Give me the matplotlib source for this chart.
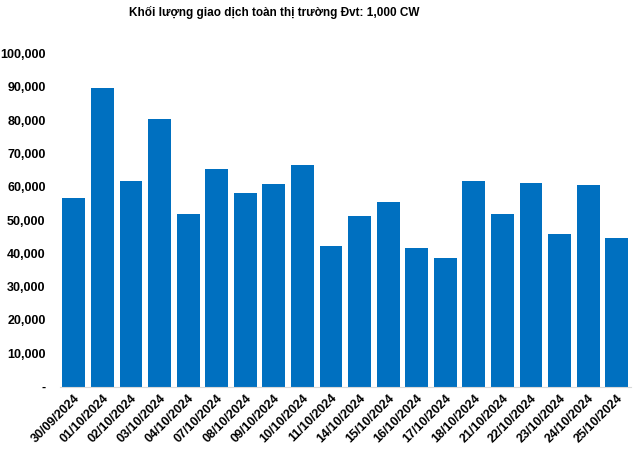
import matplotlib
matplotlib.use("Agg")
import matplotlib.pyplot as plt
from matplotlib.ticker import FuncFormatter

# Dates and traded volume (unit: 1,000 CW)
dates = [
    "30/09/2024", "01/10/2024", "02/10/2024", "03/10/2024", "04/10/2024",
    "07/10/2024", "08/10/2024", "09/10/2024", "10/10/2024", "11/10/2024",
    "14/10/2024", "15/10/2024", "16/10/2024", "17/10/2024", "18/10/2024",
    "21/10/2024", "22/10/2024", "23/10/2024", "24/10/2024", "25/10/2024",
]
volumes = [
    56600, 89600, 61700, 80300, 51800,
    65300, 58100, 60800, 66500, 42200,
    51200, 55400, 41600, 38600, 61700,
    51800, 61100, 45800, 60500, 44600,
]
y_ticks = list(range(0, 100001, 10000))

plt.rcParams["font.family"] = ["Liberation Sans", "DejaVu Sans"]

fig = plt.figure(figsize=(6.4, 4.49), dpi=100)
ax = fig.add_axes([0.093, 0.139, 0.893, 0.742])

x = range(len(dates))
ax.bar(x, volumes, width=0.8, color="#0070C0")

ax.set_xlim(-0.5, len(dates) - 0.5)
ax.set_ylim(0, 100000)
ax.set_yticks(y_ticks)
ax.yaxis.set_major_formatter(
    FuncFormatter(lambda v, _: "-" if v == 0 else f"{int(v):,}")
)
ax.set_xticks(list(x))
ax.set_xticklabels(dates, rotation=45, ha="right", rotation_mode="anchor")

for lab in ax.get_xticklabels() + ax.get_yticklabels():
    lab.set_fontweight("bold")
    lab.set_fontsize(9)

ax.tick_params(axis="both", length=0)
ax.tick_params(axis="y", pad=10)
ax.tick_params(axis="x", pad=4)

for side in ["top", "right", "left"]:
    ax.spines[side].set_visible(False)
ax.spines["bottom"].set_color("#D9D9D9")

fig.text(0.428, 0.972, "Khối lượng giao dịch toàn thị trường Đvt: 1,000 CW",
         ha="center", va="center", fontsize=8.5, fontweight="bold")

fig.savefig("out.png", dpi=100)
